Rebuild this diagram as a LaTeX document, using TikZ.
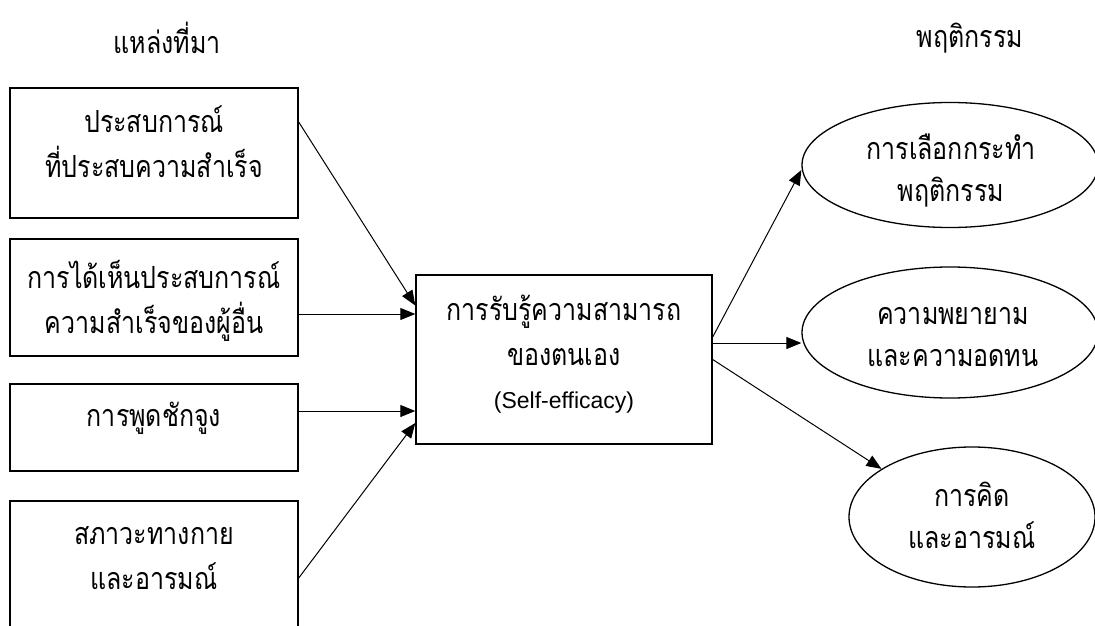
\documentclass[tikz,border=0pt]{standalone}
\usepackage{fontspec}
\usepackage{graphicx}
\newfontfamily\thaifont[Script=Thai]{Loma}
\newfontfamily\latfont{Liberation Sans}
\usetikzlibrary{shapes.geometric,arrows.meta}
\newcommand\tl[1]{\scalebox{1}[1.22]{#1}}
\begin{document}
\begin{tikzpicture}[x=1pt,y=-1pt,
  txt/.style={font=\thaifont\fontsize{25}{45}\selectfont, align=center, inner sep=0pt},
  srcbox/.style={draw, line width=1.4pt, minimum width=288pt, inner sep=0pt},
  effbox/.style={srcbox, minimum width=296pt, minimum height=169pt},
  outell/.style={draw, ellipse, line width=1.3pt, inner sep=0pt},
  etxt/.style={font=\thaifont\fontsize{25}{42}\selectfont, align=center, inner sep=0pt},
  arr/.style={line width=1pt, -{Triangle[length=15pt,width=12pt]}}
]
\clip (0,0) rectangle (1095,626);
\fill[white] (0,0) rectangle (1095,626);

\node[txt] (tsrc) at (167,38) {\tl{แหล่งที่มา}};
\node[txt] (tbeh) at (970,38) {\tl{พฤติกรรม}};

\node[srcbox, minimum height=130pt] (b1) at (154,153) {};
\node[txt] (b1t) at (154,142) {\tl{ประสบการณ์}\\\tl{ที่ประสบความสำเร็จ}};

\node[srcbox, minimum height=117pt] (b2) at (154,297.5) {};
\node[txt] (b2t) at (154,300.5) {\tl{การได้เห็นประสบการณ์}\\\tl{ความสำเร็จของผู้อื่น}};

\node[srcbox, minimum height=87pt] (b3) at (154,427.5) {};
\node[txt] (b3t) at (154,418) {\tl{การพูดชักจูง}};

\node[srcbox, minimum height=160pt] (b4) at (154,581) {};
\node[txt] (b4t) at (154,558) {\tl{สภาวะทางกาย}\\\tl{และอารมณ์}};

\node[effbox] (c) at (564,359.5) {};
\node[txt] (ct) at (564,330) {\tl{การรับรู้ความสามารถ}\\\tl{ของตนเอง}};
\node[font=\latfont\fontsize{23}{26}\selectfont, inner sep=0pt] (cl) at (564,403) {(Self-efficacy)};

\node[outell, minimum width=296pt, minimum height=125pt] (e1) at (950,165) {};
\node[etxt] (e1t) at (951,171) {\tl{การเลือกกระทำ}\\\tl{พฤติกรรม}};
\node[outell, minimum width=296pt, minimum height=131pt] (e2) at (950,332.5) {};
\node[etxt] (e2t) at (953,337) {\tl{ความพยายาม}\\\tl{และความอดทน}};
\node[outell, minimum width=246pt, minimum height=140pt] (e3) at (972,517) {};
\node[etxt] (e3t) at (972,515) {\tl{การคิด}\\\tl{และอารมณ์}};

\draw[arr] ([yshift=31pt]b1.east) -- ([yshift=54pt]c.west);
\draw[arr] ([yshift=-16.5pt]b2.east) -- ([yshift=45.5pt]c.west);
\draw[arr] ([yshift=16.5pt]b3.east) -- ([yshift=-51.5pt]c.west);
\draw[arr] ([yshift=3pt]b4.east) -- ([yshift=-63.5pt]c.west);

\draw[arr] ([yshift=22.5pt]c.east) -- ([yshift=-5pt]e1.west);
\draw[arr] ([yshift=16.5pt]c.east) -- ([yshift=-10.5pt]e2.west);
\draw[arr] (c.east) -- (e3.152);
\end{tikzpicture}
\end{document}
